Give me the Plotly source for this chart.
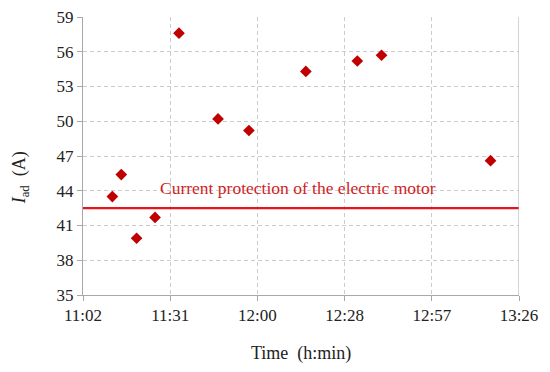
import plotly.graph_objects as go

# Measurement times (h:min:s) and adjusted current values (A)
times = ["11:11:42", "11:14:39", "11:19:42", "11:25:48", "11:33:42", "11:46:36",
         "11:56:48", "12:15:36", "12:32:36", "12:40:36", "13:16:36"]
current = [43.5, 45.4, 39.9, 41.7, 57.6, 50.2, 49.2, 54.3, 55.2, 55.7, 46.6]

protection_level = 42.5
protection_label = "Current protection of the electric motor"

x_tick_labels = ["11:02", "11:31", "12:00", "12:28", "12:57", "13:26"]
y_ticks = [35, 38, 41, 44, 47, 50, 53, 56, 59]

def to_min(s):
    p = [int(v) for v in s.split(":")]
    return p[0] * 60 + p[1] + (p[2] / 60 if len(p) > 2 else 0)

x_start = to_min(x_tick_labels[0])
x_end = to_min(x_tick_labels[-1])
n = len(x_tick_labels) - 1
x_tick_vals = [x_start + (x_end - x_start) * i / n for i in range(n + 1)]
xs = [to_min(t) for t in times]

font_fam = "Liberation Serif, DejaVu Serif, serif"

fig = go.Figure()
fig.add_trace(go.Scatter(
    x=[x_start, x_end], y=[protection_level, protection_level], mode="lines",
    line=dict(color="#e8141c", width=2.2), hoverinfo="skip", showlegend=False))
fig.add_trace(go.Scatter(
    x=xs, y=current, mode="markers",
    marker=dict(symbol="diamond", size=9, color="#c00000"),
    showlegend=False))

fig.add_annotation(
    x=(x_start + x_end) / 2 - 1, y=protection_level, yshift=8, yanchor="bottom",
    text=protection_label, showarrow=False,
    font=dict(family=font_fam, size=17.5, color="#d01e26"))

# y-axis title placed as a rotated annotation
fig.add_annotation(
    xref="paper", yref="paper", x=0, y=0.42, xshift=-63,
    xanchor="center", yanchor="middle", textangle=-90, showarrow=False,
    text="<i>I</i><sub>ad</sub>  (A)",
    font=dict(family=font_fam, size=18, color="#222222"))

# x-axis title as annotation
fig.add_annotation(
    xref="paper", yref="paper", x=0.5, y=0, yshift=-58,
    xanchor="center", yanchor="middle", showarrow=False,
    text="Time  (h:min)",
    font=dict(family=font_fam, size=18, color="#222222"))

# right border (solid)
fig.add_shape(type="line", xref="x", yref="paper", x0=x_end, x1=x_end, y0=0, y1=1,
              line=dict(color="#a8a8a8", width=1))

grid_style = dict(showgrid=True, gridcolor="#cccccc", griddash="4px,3px", gridwidth=1)

fig.update_layout(
    width=542, height=364,
    margin=dict(l=75, r=31, t=9, b=77, autoexpand=False),
    paper_bgcolor="white", plot_bgcolor="white",
    font=dict(family=font_fam, size=17, color="#222222"),
    xaxis=dict(
        range=[x_start, x_end], tickvals=x_tick_vals, ticktext=x_tick_labels,
        **grid_style,
        showline=True, linecolor="#a8a8a8", linewidth=1,
        ticks="outside", ticklen=5, tickcolor="#a8a8a8",
        zeroline=False, ticklabeloverflow="allow", automargin=False,
    ),
    yaxis=dict(
        range=[35, 59], tickvals=y_ticks,
        **grid_style,
        showline=True, linecolor="#a8a8a8", linewidth=1,
        ticks="outside", ticklen=5, tickcolor="#a8a8a8",
        zeroline=False, ticklabeloverflow="allow", automargin=False,
    ),
)

fig.write_html("out.html")
